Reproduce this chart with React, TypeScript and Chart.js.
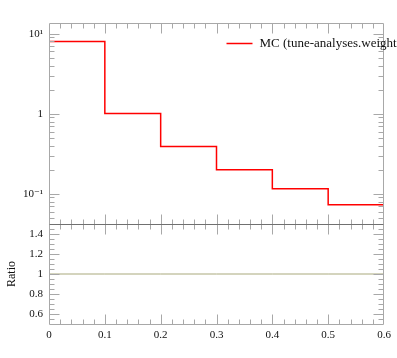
import { useEffect, useRef } from 'react';
import { Chart, registerables } from 'chart.js';

Chart.register(...registerables);

// ---- data ----
const binEdges = [0, 0.1, 0.2, 0.3, 0.4, 0.5, 0.6];
const mcValues = [8.0, 1.01, 0.39, 0.2, 0.116, 0.0728];
const ratioValues = [1, 1, 1, 1, 1, 1];
const xTicks = [0, 0.1, 0.2, 0.3, 0.4, 0.5, 0.6];
const xTickLabels = ['0', '0.1', '0.2', '0.3', '0.4', '0.5', '0.6'];
const mainTicks = [0.1, 1, 10];
const mainTickLabels = ['10⁻¹', '1', '10¹'];
const ratioTicks = [0.6, 0.8, 1, 1.2, 1.4];
const ratioTickLabels = ['0.6', '0.8', '1', '1.2', '1.4'];
const legendLabel = 'MC (tune-analyses.weight';

const FONT = "'Liberation Serif', 'DejaVu Serif', serif";
const FRAME = '#a8a8a8';
const MID = '#707070';
const RED = '#ff0000';
const OLIVE = '#a9a97c';

// histogram steps: point at each left edge, plus closing point at last edge
const toSteps = (vals: number[]) =>
  binEdges.map((x, i) => ({ x, y: vals[Math.min(i, vals.length - 1)] }));

const framePlugin = {
  id: 'frameTicks',
  afterDatasetsDraw(chart: any) {
    const ctx = chart.ctx as CanvasRenderingContext2D;
    const x = chart.scales.x;
    const y = chart.scales.y;
    const yr = chart.scales.yr;
    const L = Math.round(x.left) + 0.5;
    const R = Math.round(x.right) - 0.5;
    const p = (v: number) => Math.round(v) + 0.5;
    const line = (x1: number, y1: number, x2: number, y2: number) => {
      ctx.beginPath();
      ctx.moveTo(x1, y1);
      ctx.lineTo(x2, y2);
      ctx.stroke();
    };
    ctx.save();
    ctx.lineWidth = 1;
    ctx.strokeStyle = FRAME;

    // frames
    for (const s of [y, yr]) {
      const t = p(s.top);
      const b = p(s.bottom);
      line(L, t, R, t);
      line(L, b, R, b);
      line(L, t, L, b);
      line(R, t, R, b);
    }

    // x ticks (top and bottom of each panel)
    const xTickRow = (yy: number, dir: number) => {
      for (let k = 1; k < 30; k++) {
        const v = k * 0.02;
        const len = k % 5 === 0 ? 10 : 5;
        const X = p(x.getPixelForValue(v));
        line(X, yy, X, yy + dir * len);
      }
    };
    xTickRow(p(y.top), 1);
    xTickRow(p(y.bottom), -1);
    xTickRow(p(yr.top), 1);
    xTickRow(p(yr.bottom), -1);

    // log y ticks (top panel)
    for (let d = -2; d <= 1; d++) {
      for (let m = 1; m <= 9; m++) {
        const v = m * Math.pow(10, d);
        if (v <= y.min || v >= y.max) continue;
        const len = m === 1 ? 10 : 5;
        const Y = p(y.getPixelForValue(v));
        line(L, Y, L + len, Y);
        line(R, Y, R - len, Y);
      }
    }

    // ratio y ticks
    for (let k = 11; k < 30; k++) {
      const v = k * 0.05;
      const len = k % 4 === 0 ? 10 : 5;
      const Y = p(yr.getPixelForValue(v));
      line(L, Y, L + len, Y);
      line(R, Y, R - len, Y);
    }

    // shared middle axis line
    ctx.strokeStyle = MID;
    line(L, p(y.bottom), R, p(y.bottom));

    // legend
    const ds = chart.data.datasets[0];
    const lx = R - 157;
    const ly = Math.round(y.top + 20) + 0.5;
    ctx.strokeStyle = ds.borderColor;
    ctx.lineWidth = 1.5;
    line(lx, ly, lx + 26, ly);
    ctx.fillStyle = '#111';
    ctx.font = `13px ${FONT}`;
    ctx.textBaseline = 'middle';
    ctx.textAlign = 'left';
    ctx.fillText(ds.label, lx + 33, ly);
    ctx.restore();
  },
};

export default function App() {
  const ref = useRef<HTMLCanvasElement | null>(null);

  useEffect(() => {
    document.body.style.margin = '0';
    const canvas = ref.current;
    if (!canvas) return;
    const tickFont = { family: FONT, size: 11 };
    const chart = new Chart(canvas, {
      type: 'line',
      data: {
        datasets: [
          {
            label: legendLabel,
            data: toSteps(mcValues),
            yAxisID: 'y',
            stepped: 'before',
            borderColor: RED,
            borderWidth: 1.5,
            pointRadius: 0,
            fill: false,
          },
          {
            label: 'Ratio',
            data: toSteps(ratioValues),
            yAxisID: 'yr',
            stepped: 'before',
            borderColor: OLIVE,
            borderWidth: 1,
            pointRadius: 0,
            fill: false,
          },
        ],
      },
      options: {
        responsive: false,
        animation: false,
        events: [],
        layout: { padding: { top: 23, right: 13, left: 0, bottom: 0 } },
        plugins: { legend: { display: false }, tooltip: { enabled: false } },
        scales: {
          x: {
            type: 'linear',
            position: 'bottom',
            min: 0,
            max: 0.6,
            grid: { display: false, drawTicks: false },
            border: { display: false },
            afterBuildTicks: (s: any) => {
              s.ticks = xTicks.map((v) => ({ value: v }));
            },
            afterFit: (s: any) => {
              s.height = 34;
            },
            ticks: {
              autoSkip: false,
              maxRotation: 0,
              padding: 5,
              color: '#111',
              font: tickFont,
              callback: (_v: any, i: number) => xTickLabels[i],
            },
          },
          y: {
            type: 'logarithmic',
            position: 'left',
            stack: 'panels',
            stackWeight: 201,
            weight: 2,
            min: 0.042,
            max: 13.6,
            grid: { display: false, drawTicks: false },
            border: { display: false },
            afterBuildTicks: (s: any) => {
              s.ticks = mainTicks.map((v) => ({ value: v }));
            },
            afterFit: (s: any) => {
              s.width = 49;
            },
            ticks: {
              autoSkip: false,
              padding: 6,
              color: '#111',
              font: tickFont,
              callback: (_v: any, i: number) => mainTickLabels[i],
            },
          },
          yr: {
            type: 'linear',
            position: 'left',
            stack: 'panels',
            stackWeight: 100,
            weight: 1,
            min: 0.5,
            max: 1.5,
            grid: { display: false, drawTicks: false },
            border: { display: false },
            afterBuildTicks: (s: any) => {
              s.ticks = ratioTicks.map((v) => ({ value: v }));
            },
            afterFit: (s: any) => {
              s.width = 49;
            },
            title: {
              display: true,
              text: 'Ratio',
              color: '#111',
              font: { family: FONT, size: 12 },
              padding: { top: 5, bottom: 0 },
            },
            ticks: {
              autoSkip: false,
              padding: 6,
              color: '#111',
              font: tickFont,
              callback: (_v: any, i: number) => ratioTickLabels[i],
            },
          },
        },
      },
      plugins: [framePlugin],
    } as any);
    return () => chart.destroy();
  }, []);

  return (
    <div style={{ width: 397, height: 358 }}>
      <canvas ref={ref} width={397} height={358} />
    </div>
  );
}
